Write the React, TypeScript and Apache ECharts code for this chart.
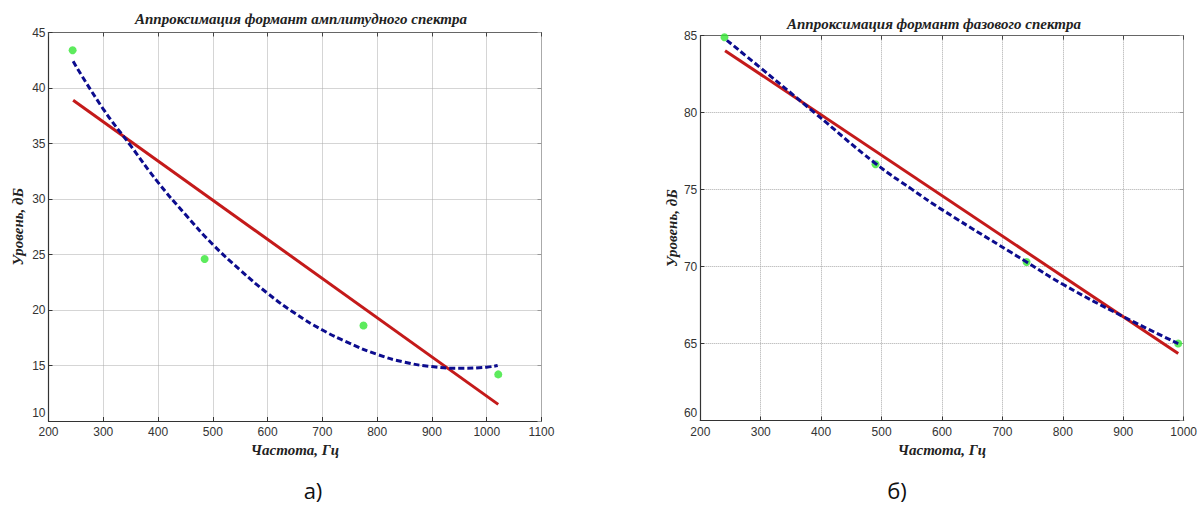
import React, { useEffect, useRef } from "react";
import * as echarts from "echarts";

// ---- Left chart (amplitude spectrum) ----
const ampPoints: [number, number][] = [
  [244, 43.4],
  [485, 24.6],
  [775, 18.6],
  [1021, 14.2],
];
const ampLinear: [number, number][] = [
  [245, 38.9],
  [1021, 11.5],
];
const ampPolyX = [245, 300, 350, 400, 450, 500, 550, 600, 650, 700, 750, 800, 850, 900, 950, 1000, 1020];
const ampPolyY = [42.4, 38.1, 34.8, 31.5, 28.6, 25.9, 23.6, 21.5, 19.7, 18.2, 17.0, 16.0, 15.3, 14.9, 14.75, 14.85, 15.0];

// ---- Right chart (phase spectrum) ----
const phasePoints: [number, number][] = [
  [240, 84.9],
  [490, 76.65],
  [740, 70.3],
  [991, 65.0],
];
const phaseLinear: [number, number][] = [
  [241, 84.03],
  [991, 64.35],
];
const phasePolyX = [244, 300, 389, 490, 551, 600, 740, 800, 900, 991];
const phasePolyY = [84.7, 82.9, 80.0, 76.7, 75.0, 73.7, 70.3, 68.85, 66.75, 65.0];

const titles = ["Аппроксимация формант амплитудного спектра", "Аппроксимация формант фазового спектра"];
const xName = "Частота, Гц";
const yName = "Уровень, дБ";
const panelLabels = ["а)", "б)"];

const zip = (xs: number[], ys: number[]) => xs.map((x, i) => [x, ys[i]]);

const serifFont = '"Liberation Serif", "DejaVu Serif", serif';
const sansFont = '"Liberation Sans", Arial, sans-serif';

function makeAxes(gridIndex: number, min: number, max: number, interval: number, isX: boolean, nameGap: number) {
  const main: any = {
    type: "value",
    gridIndex,
    min,
    max,
    interval,
    name: isX ? xName : yName,
    nameLocation: "middle",
    nameGap,
    nameTextStyle: {
      fontFamily: serifFont,
      fontStyle: "italic",
      fontWeight: "bold",
      fontSize: 15,
      color: "#222",
    },
    axisLine: { show: true, lineStyle: { color: "#333", width: 1.2 } },
    axisTick: { show: true, inside: true, length: 4, lineStyle: { color: "#333" } },
    axisLabel: {
      fontFamily: sansFont,
      fontSize: 12,
      color: "#333",
      margin: isX ? 5 : 3,
      formatter: isX
        ? (v: number) => String(v)
        : (v: number) => (v === min ? `{lo|${v}}` : String(v)),
      rich: isX ? undefined : { lo: { fontFamily: sansFont, fontSize: 12, color: "#333", padding: [0, 0, 16, 0] } },
    },
    splitLine: { show: true, lineStyle: { type: "dotted", color: "#aaa", width: 1 } },
  };
  if (!isX) main.nameRotate = 90;
  const opp: any = {
    type: "value",
    gridIndex,
    min,
    max,
    interval,
    position: isX ? "top" : "right",
    axisLine: { show: true, lineStyle: { color: isX ? "#666" : "#aaa", width: 1 } },
    axisTick: { show: true, inside: true, length: 4, lineStyle: { color: isX ? "#444" : "#999" } },
    axisLabel: { show: false },
    splitLine: { show: false },
  };
  return [main, opp];
}

export default function App() {
  const ref = useRef<HTMLDivElement>(null);
  useEffect(() => {
    if (!ref.current) return;
    const chart = echarts.init(ref.current, undefined, { renderer: "svg" });
    const xL = makeAxes(0, 200, 1100, 100, true, 19);
    const yL = makeAxes(0, 10, 45, 5, false, 23);
    const xR = makeAxes(1, 200, 1000, 100, true, 19);
    const yR = makeAxes(1, 60, 85, 5, false, 21);
    const green = "#35e635";
    const red = "#c41a1a";
    const blue = "#0c0c8e";
    const option: any = {
      animation: false,
      backgroundColor: "#fff",
      grid: [
        { left: 48.5, top: 32.5, width: 493, height: 388.5, show: false },
        { left: 700.3, top: 35.7, width: 485.2, height: 384.8, show: false },
      ],
      xAxis: [xL[0], xL[1], xR[0], xR[1]],
      yAxis: [yL[0], yL[1], yR[0], yR[1]],
      series: [
        {
          type: "scatter",
          xAxisIndex: 0,
          yAxisIndex: 0,
          data: ampPoints,
          symbolSize: 8,
          itemStyle: { color: green },
          z: 2,
        },
        {
          type: "line",
          xAxisIndex: 0,
          yAxisIndex: 0,
          data: ampLinear,
          showSymbol: false,
          lineStyle: { color: red, width: 3 },
          z: 3,
        },
        {
          type: "line",
          xAxisIndex: 0,
          yAxisIndex: 0,
          data: zip(ampPolyX, ampPolyY),
          smooth: true,
          showSymbol: false,
          lineStyle: { color: blue, width: 3, type: [6, 3] },
          z: 4,
        },
        {
          type: "scatter",
          xAxisIndex: 2,
          yAxisIndex: 2,
          data: phasePoints,
          symbolSize: 8,
          itemStyle: { color: green },
          z: 2,
        },
        {
          type: "line",
          xAxisIndex: 2,
          yAxisIndex: 2,
          data: phaseLinear,
          showSymbol: false,
          lineStyle: { color: red, width: 3 },
          z: 3,
        },
        {
          type: "line",
          xAxisIndex: 2,
          yAxisIndex: 2,
          data: zip(phasePolyX, phasePolyY),
          smooth: true,
          showSymbol: false,
          lineStyle: { color: blue, width: 3, type: [6, 3] },
          z: 4,
        },
      ],
      graphic: [
        {
          type: "text",
          x: 301,
          y: 19,
          style: {
            text: titles[0],
            font: `italic bold 15px ${serifFont}`,
            fill: "#222",
            align: "center",
            verticalAlign: "middle",
          },
        },
        {
          type: "text",
          x: 934,
          y: 24,
          style: {
            text: titles[1],
            font: `italic bold 15px ${serifFont}`,
            fill: "#222",
            align: "center",
            verticalAlign: "middle",
          },
        },
        {
          type: "text",
          x: 313,
          y: 490,
          style: {
            text: panelLabels[0],
            font: `22px "Open Sans", "Noto Sans", sans-serif`,
            fill: "#111",
            align: "center",
            verticalAlign: "middle",
          },
        },
        {
          type: "text",
          x: 897,
          y: 490,
          style: {
            text: panelLabels[1],
            font: `22px "Open Sans", "Noto Sans", sans-serif`,
            fill: "#111",
            align: "center",
            verticalAlign: "middle",
          },
        },
      ],
    };
    chart.setOption(option);
    return () => chart.dispose();
  }, []);
  return (
    <div
      ref={ref}
      style={{ position: "absolute", left: 0, top: 0, width: 1200, height: 508, background: "#fff" }}
    />
  );
}
